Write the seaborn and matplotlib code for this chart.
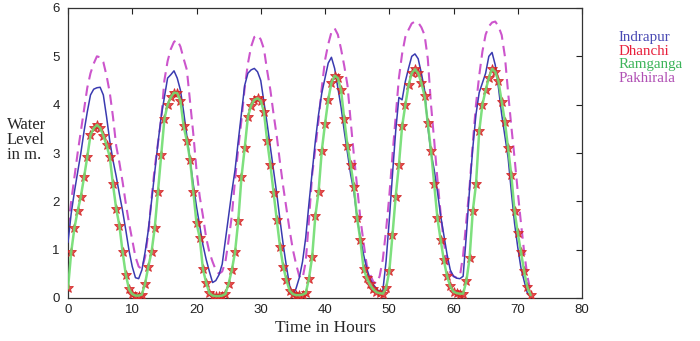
import numpy as np
import pandas as pd
import matplotlib
matplotlib.use("Agg")
import matplotlib.pyplot as plt
import seaborn as sns

# ---- data (half-hour samples) ----
hours = [i * 0.5 for i in range(145)]  # 0 .. 72 h

indrapur = [
    1.15, 1.75, 2.20, 2.60, 3.00, 3.45, 3.85, 4.20, 4.32, 4.35,
    4.36, 4.20, 3.75, 3.25, 2.85, 2.52, 2.15, 1.80, 1.40, 0.98,
    0.65, 0.42, 0.40, 0.58, 0.95, 1.40, 2.00, 2.60, 3.20, 3.75,
    4.15, 4.55, 4.62, 4.70, 4.55, 4.30, 3.85, 3.35, 2.86, 2.35,
    1.89, 1.50, 1.10, 0.80, 0.55, 0.32, 0.36, 0.48, 0.70, 1.20,
    1.70, 2.20, 2.65, 3.25, 3.82, 4.40, 4.65, 4.72, 4.75, 4.68,
    4.50, 4.05, 3.60, 3.12, 2.65, 2.15, 1.61, 1.10, 0.65, 0.25,
    0.05, 0.20, 0.42, 0.75, 1.25, 1.95, 2.60, 3.25, 3.80, 4.24,
    4.55, 4.86, 4.98, 4.75, 4.35, 3.95, 3.45, 3.00, 2.55, 2.20,
    1.65, 1.25, 0.90, 0.61, 0.40, 0.28, 0.20, 0.12, 0.15, 0.75,
    1.60, 2.55, 3.45, 4.15, 4.10, 4.48, 4.75, 5.00, 5.05, 4.95,
    4.65, 4.30, 3.55, 3.00, 2.65, 2.20, 1.70, 1.30, 0.90, 0.58,
    0.45, 0.41, 0.40, 0.45, 1.30, 2.25, 3.10, 3.80, 4.25, 4.45,
    4.65, 5.00, 5.08, 4.82, 4.35, 3.80, 3.35, 2.90, 2.20, 1.55,
    1.05, 0.62, 0.35, 0.10, 0.04,
]

dhanchi = [
    0.20, 0.95, 1.45, 1.80, 2.10, 2.50, 2.92, 3.37, 3.51, 3.58,
    3.52, 3.36, 3.16, 2.92, 2.35, 1.85, 1.50, 0.95, 0.48, 0.18,
    0.08, 0.05, 0.05, 0.07, 0.30, 0.65, 0.95, 1.45, 2.20, 2.95,
    3.70, 4.00, 4.15, 4.25, 4.24, 4.08, 3.55, 3.25, 2.86, 2.20,
    1.55, 1.25, 0.60, 0.32, 0.10, 0.05, 0.04, 0.04, 0.05, 0.08,
    0.30, 0.58, 0.95, 1.60, 2.50, 3.10, 3.75, 3.98, 4.10, 4.13,
    4.08, 3.85, 3.25, 2.75, 2.17, 1.61, 1.06, 0.65, 0.37, 0.15,
    0.08, 0.06, 0.06, 0.07, 0.10, 0.40, 0.85, 1.70, 2.20, 3.05,
    3.60, 4.10, 4.45, 4.60, 4.55, 4.30, 3.70, 3.15, 2.75, 2.30,
    1.65, 1.20, 0.61, 0.41, 0.28, 0.18, 0.12, 0.10, 0.09, 0.20,
    0.55, 1.30, 2.10, 2.75, 3.55, 3.99, 4.40, 4.65, 4.73, 4.65,
    4.45, 4.18, 3.62, 3.05, 2.35, 1.65, 1.20, 0.78, 0.45, 0.24,
    0.13, 0.10, 0.09, 0.09, 0.35, 0.82, 1.80, 2.35, 3.45, 4.00,
    4.30, 4.55, 4.74, 4.68, 4.48, 4.06, 3.65, 3.10, 2.54, 1.80,
    1.35, 0.95, 0.55, 0.22, 0.06,
]

ramganga = [
    0.20, 0.95, 1.45, 1.80, 2.10, 2.50, 2.92, 3.37, 3.51, 3.58,
    3.52, 3.36, 3.16, 2.92, 2.35, 1.85, 1.50, 0.95, 0.48, 0.18,
    0.08, 0.05, 0.05, 0.07, 0.30, 0.65, 0.95, 1.45, 2.20, 2.95,
    3.70, 4.00, 4.15, 4.25, 4.24, 4.08, 3.55, 3.25, 2.86, 2.20,
    1.55, 1.25, 0.60, 0.32, 0.10, 0.05, 0.04, 0.04, 0.05, 0.08,
    0.30, 0.58, 0.95, 1.60, 2.50, 3.10, 3.75, 3.98, 4.10, 4.13,
    4.08, 3.85, 3.25, 2.75, 2.17, 1.61, 1.06, 0.65, 0.37, 0.15,
    0.08, 0.06, 0.06, 0.07, 0.10, 0.40, 0.85, 1.70, 2.20, 3.05,
    3.60, 4.10, 4.45, 4.60, 4.55, 4.30, 3.70, 3.15, 2.75, 2.30,
    1.65, 1.20, 0.61, 0.41, 0.28, 0.18, 0.12, 0.10, 0.09, 0.20,
    0.55, 1.30, 2.10, 2.75, 3.55, 3.99, 4.40, 4.65, 4.73, 4.65,
    4.45, 4.18, 3.62, 3.05, 2.35, 1.65, 1.20, 0.78, 0.45, 0.24,
    0.13, 0.10, 0.09, 0.09, 0.35, 0.82, 1.80, 2.35, 3.45, 4.00,
    4.30, 4.55, 4.74, 4.68, 4.48, 4.06, 3.65, 3.10, 2.54, 1.80,
    1.35, 0.95, 0.55, 0.22, 0.06,
]

pakhirala = [
    1.45, 2.00, 2.50, 3.00, 3.45, 3.90, 4.35, 4.65, 4.85, 5.00,
    4.98, 4.88, 4.60, 4.25, 3.75, 3.15, 2.80, 2.40, 1.95, 1.55,
    1.20, 0.85, 0.65, 0.60, 0.85, 1.35, 2.05, 2.70, 3.20, 3.70,
    4.50, 4.90, 5.15, 5.30, 5.34, 5.20, 4.95, 4.72, 4.05, 3.40,
    2.65, 2.10, 1.70, 1.25, 0.95, 0.75, 0.58, 0.50, 0.55, 0.75,
    1.20, 1.70, 2.45, 3.10, 3.68, 4.35, 4.85, 5.20, 5.40, 5.44,
    5.35, 5.15, 4.70, 4.30, 3.80, 3.34, 2.80, 2.30, 1.85, 1.40,
    1.00, 0.70, 0.45, 0.40, 0.75, 1.60, 2.55, 3.10, 3.68, 4.35,
    4.92, 5.25, 5.50, 5.58, 5.45, 5.15, 4.80, 4.40, 3.65, 2.95,
    2.30, 1.65, 1.15, 0.68, 0.50, 0.34, 0.30, 0.45, 0.80, 1.40,
    2.10, 2.95, 3.75, 4.55, 5.05, 5.40, 5.55, 5.68, 5.72, 5.70,
    5.60, 5.44, 4.95, 4.00, 3.25, 2.45, 1.75, 1.15, 0.75, 0.52,
    0.45, 0.42, 0.45, 0.89, 1.60, 2.30, 3.20, 4.00, 4.60, 5.10,
    5.45, 5.62, 5.70, 5.72, 5.62, 5.44, 5.00, 4.25, 3.55, 2.90,
    2.20, 1.55, 0.95, 0.45, 0.13,
]

series_names = ["Indrapur", "Dhanchi", "Ramganga", "Pakhirala"]
legend_colors = ["#4a4ab4", "#e8203c", "#3cb45a", "#b050b4"]
x_ticks = [0, 10, 20, 30, 40, 50, 60, 70, 80]
y_ticks = [0, 1, 2, 3, 4, 5, 6]

df = pd.DataFrame({"Time": hours, "Indrapur": indrapur, "Dhanchi": dhanchi,
                   "Ramganga": ramganga, "Pakhirala": pakhirala})

sns.set_style("white")
plt.rcParams["font.family"] = ["Liberation Sans", "DejaVu Sans"]

fig = plt.figure(figsize=(7.0, 3.41), dpi=100)
ax = fig.add_axes([68 / 700, 43 / 341, 514 / 700, 290 / 341])

sns.lineplot(data=df, x="Time", y="Pakhirala", ax=ax, color="#cc55cc",
             linewidth=1.5, dashes=False, zorder=2).lines[-1].set_dashes([5, 3])
sns.lineplot(data=df, x="Time", y="Indrapur", ax=ax, color="#3a3ab0",
             linewidth=1.1, zorder=3)
sns.lineplot(data=df, x="Time", y="Dhanchi", ax=ax, color="#e03030",
             linestyle="", marker="*", markersize=7, markeredgewidth=0.6,
             markeredgecolor="#d02020", alpha=0.85, zorder=4)
sns.lineplot(data=df, x="Time", y="Ramganga", ax=ax, color="#70dd70",
             linewidth=1.8, alpha=0.9, zorder=5)

ax.set_xlim(0, 80)
ax.set_ylim(0, 6)
ax.set_xticks(x_ticks)
ax.set_yticks(y_ticks)
ax.tick_params(direction="in", length=4, width=0.8, top=True, right=True,
               labelsize=9.5, colors="#222222", pad=4)
ax.tick_params(axis="y", pad=6)
for s in ax.spines.values():
    s.set_color("#333333")
    s.set_linewidth(0.9)

ax.set_xlabel("Time in Hours", family="Liberation Serif", fontsize=12.5,
              labelpad=3)
ax.set_ylabel("")
fig.text(7 / 700, 1 - 140 / 341, "Water\nLevel\nin m.", family="Liberation Serif",
         fontsize=12, ha="left", va="center", linespacing=0.95)

for i, (name, col) in enumerate(zip(series_names, legend_colors)):
    fig.text(619 / 700, 1 - (41 + 13.6 * i) / 341, name, color=col,
             family="Liberation Serif", fontsize=10.8, ha="left", va="baseline")

fig.savefig("out.png", dpi=100)
